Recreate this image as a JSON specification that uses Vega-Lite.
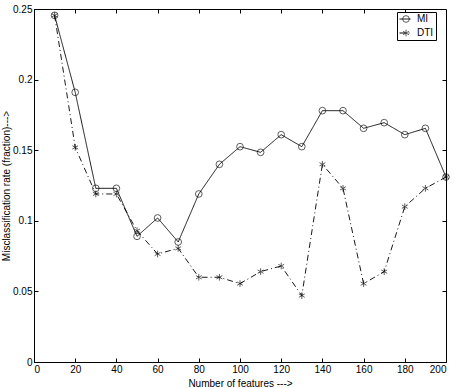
{
  "$schema": "https://vega.github.io/schema/vega-lite/v6.json",
  "autosize": {"type": "none"},
  "padding": {"left": 34, "top": 9, "right": 11, "bottom": 26},
  "width": 412,
  "height": 353,
  "config": {
    "font": "Liberation Sans",
    "view": {"stroke": "black", "strokeWidth": 1},
    "axis": {
      "labelFont": "Liberation Sans",
      "titleFont": "Liberation Sans",
      "labelFontSize": 10,
      "titleFontSize": 10,
      "titleFontWeight": "normal",
      "labelColor": "black",
      "titleColor": "black",
      "domainColor": "black",
      "tickColor": "black",
      "grid": false
    }
  },
  "data": {
    "values": [
      {"n": 10, "rate": 0.2455, "series": "MI"},
      {"n": 20, "rate": 0.191, "series": "MI"},
      {"n": 30, "rate": 0.123, "series": "MI"},
      {"n": 40, "rate": 0.123, "series": "MI"},
      {"n": 50, "rate": 0.089, "series": "MI"},
      {"n": 60, "rate": 0.102, "series": "MI"},
      {"n": 70, "rate": 0.085, "series": "MI"},
      {"n": 80, "rate": 0.119, "series": "MI"},
      {"n": 90, "rate": 0.140, "series": "MI"},
      {"n": 100, "rate": 0.1525, "series": "MI"},
      {"n": 110, "rate": 0.1485, "series": "MI"},
      {"n": 120, "rate": 0.161, "series": "MI"},
      {"n": 130, "rate": 0.1525, "series": "MI"},
      {"n": 140, "rate": 0.178, "series": "MI"},
      {"n": 150, "rate": 0.178, "series": "MI"},
      {"n": 160, "rate": 0.1655, "series": "MI"},
      {"n": 170, "rate": 0.1695, "series": "MI"},
      {"n": 180, "rate": 0.161, "series": "MI"},
      {"n": 190, "rate": 0.1655, "series": "MI"},
      {"n": 200, "rate": 0.131, "series": "MI"},
      {"n": 10, "rate": 0.2455, "series": "DTI"},
      {"n": 20, "rate": 0.152, "series": "DTI"},
      {"n": 30, "rate": 0.119, "series": "DTI"},
      {"n": 40, "rate": 0.119, "series": "DTI"},
      {"n": 50, "rate": 0.093, "series": "DTI"},
      {"n": 60, "rate": 0.0765, "series": "DTI"},
      {"n": 70, "rate": 0.0805, "series": "DTI"},
      {"n": 80, "rate": 0.060, "series": "DTI"},
      {"n": 90, "rate": 0.060, "series": "DTI"},
      {"n": 100, "rate": 0.0555, "series": "DTI"},
      {"n": 110, "rate": 0.064, "series": "DTI"},
      {"n": 120, "rate": 0.068, "series": "DTI"},
      {"n": 130, "rate": 0.047, "series": "DTI"},
      {"n": 140, "rate": 0.140, "series": "DTI"},
      {"n": 150, "rate": 0.123, "series": "DTI"},
      {"n": 160, "rate": 0.0555, "series": "DTI"},
      {"n": 170, "rate": 0.064, "series": "DTI"},
      {"n": 180, "rate": 0.110, "series": "DTI"},
      {"n": 190, "rate": 0.123, "series": "DTI"},
      {"n": 200, "rate": 0.131, "series": "DTI"}
    ]
  },
  "layer": [
    {
      "mark": {"type": "line", "color": "black", "strokeWidth": 0.9},
      "encoding": {
        "x": {"field": "n", "type": "quantitative", "scale": {"domain": [0, 200], "nice": false, "zero": false},
          "axis": {"orient": "bottom", "values": [0,20,40,60,80,100,120,140,160,180,200], "tickSize": -4, "labelPadding": 6, "title": "Number of features --->", "titlePadding": 4}},
        "y": {"field": "rate", "type": "quantitative", "scale": {"domain": [0, 0.25], "nice": false},
          "axis": {"orient": "left", "values": [0,0.05,0.1,0.15,0.2,0.25], "format": "~g", "tickSize": -4, "labelPadding": 6, "title": "Misclassification rate (fraction)--->", "titlePadding": 1}},
        "strokeDash": {"field": "series", "type": "nominal",
          "scale": {"domain": ["MI", "DTI"], "range": [[1, 0], [6, 3, 1, 3]]},
          "legend": {"title": null, "orient": "none", "legendX": 363, "legendY": 3, "symbolType": "stroke", "symbolSize": 121, "symbolStrokeColor": "black", "symbolStrokeWidth": 1, "strokeColor": "black", "fillColor": "white", "padding": 2, "rowPadding": 4, "clipHeight": 10, "labelOffset": 6, "labelFontSize": 10, "labelFont": "Liberation Sans", "labelColor": "black"}}
      }
    },
    {
      "mark": {"type": "point", "color": "black", "filled": false, "strokeWidth": 0.9, "size": 45},
      "encoding": {
        "x": {"field": "n", "type": "quantitative", "axis": null},
        "y": {"field": "rate", "type": "quantitative", "axis": null},
        "shape": {"field": "series", "type": "nominal", "sort": ["MI", "DTI"],
          "scale": {"range": ["circle", "M0,-1V1M-0.87,-0.5L0.87,0.5M-0.87,0.5L0.87,-0.5"]},
          "legend": {"title": null, "orient": "none", "legendX": 365, "legendY": 3, "symbolSize": 45, "symbolStrokeColor": "black", "symbolFillColor": "transparent", "symbolStrokeWidth": 0.9, "padding": 2, "rowPadding": 4, "clipHeight": 10, "labelFontSize": 10, "labelExpr": "''", "labelOffset": 0, "strokeColor": null}}
      }
    },
    {
      "mark": {"type": "point", "opacity": 0},
      "encoding": {
        "x": {"field": "n", "type": "quantitative",
          "axis": {"orient": "top", "values": [20,40,60,80,100,120,140,160,180], "labels": false, "domain": false, "tickSize": -4, "title": null}},
        "y": {"field": "rate", "type": "quantitative",
          "axis": {"orient": "right", "values": [0.05,0.1,0.15,0.2], "labels": false, "domain": false, "tickSize": -4, "title": null}}
      }
    }
  ],
  "resolve": {"axis": {"x": "independent", "y": "independent"}}
}
